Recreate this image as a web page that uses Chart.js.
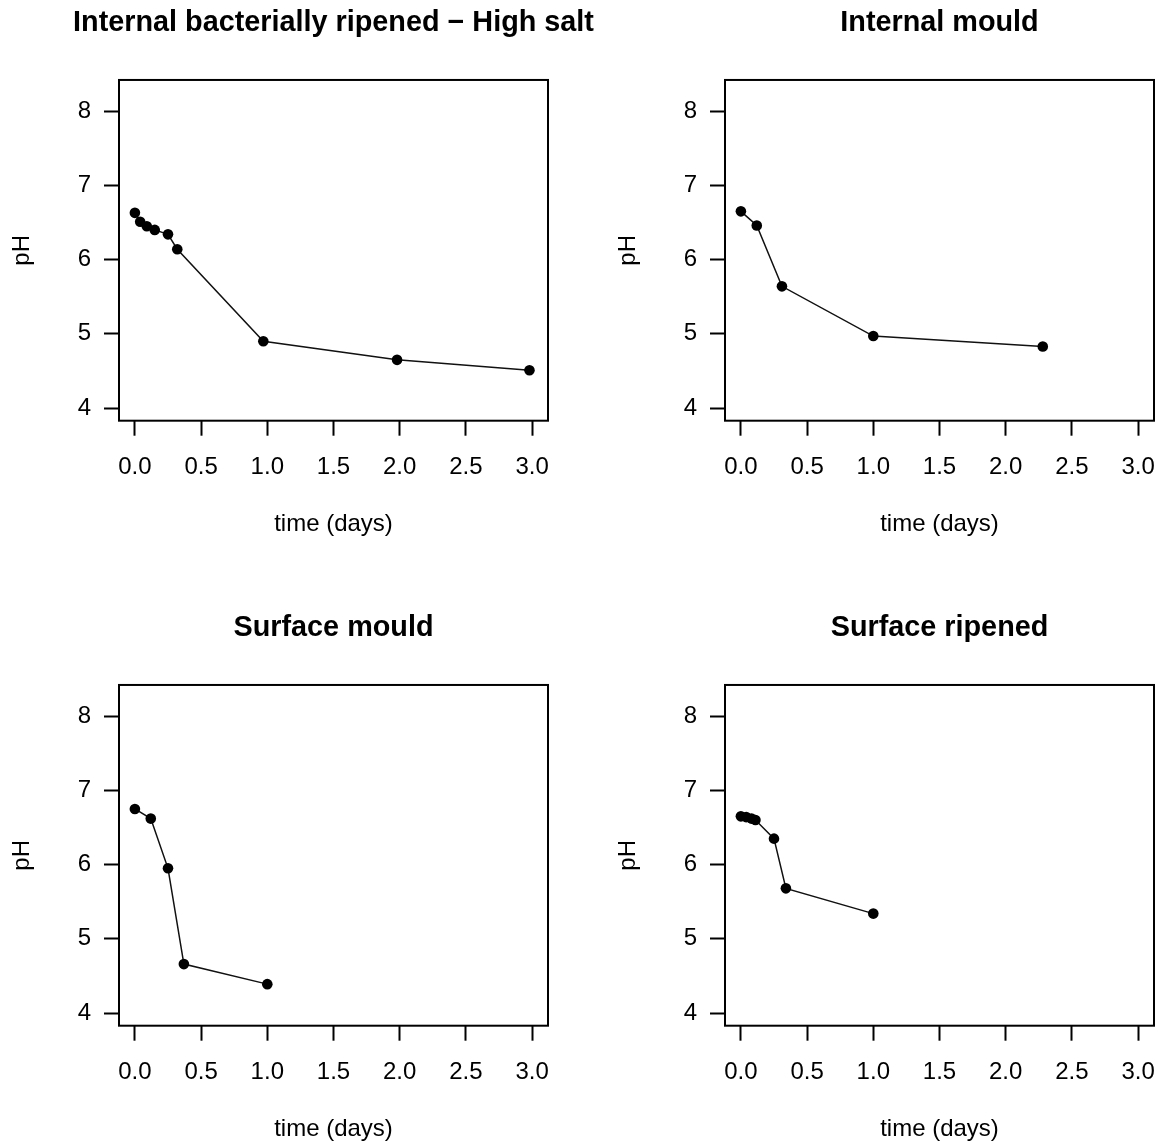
<!DOCTYPE html>
<html>
<head>
<meta charset="utf-8">
<script src="https://cdn.jsdelivr.net/npm/chart.js@4.4.1/dist/chart.umd.min.js"></script>
<style>
  html, body { margin: 0; padding: 0; background: #fff; overflow: hidden; }
  body { width: 1162px; height: 1141px; position: relative; }
  canvas { position: absolute; }
</style>
</head>
<body>
<canvas id="c1" width="667" height="539" style="left:0px;top:0px"></canvas>
<canvas id="c2" width="667" height="539" style="left:606px;top:0px"></canvas>
<canvas id="c3" width="667" height="539" style="left:0px;top:605px"></canvas>
<canvas id="c4" width="667" height="539" style="left:606px;top:605px"></canvas>
<script>
// time in days, pH
const titles = [
  "Internal bacterially ripened \u2212 High salt",
  "Internal mould",
  "Surface mould",
  "Surface ripened"
];
const timeIBR = [0, 0.04, 0.09, 0.15, 0.25, 0.32, 0.97, 1.98, 2.98];
const phIBR   = [6.63, 6.51, 6.45, 6.40, 6.34, 6.14, 4.90, 4.65, 4.51];
const timeIM  = [0, 0.12, 0.31, 1.0, 2.28];
const phIM    = [6.65, 6.46, 5.64, 4.97, 4.83];
const timeSM  = [0, 0.12, 0.25, 0.37, 1.0];
const phSM    = [6.75, 6.62, 5.95, 4.66, 4.39];
const timeSR  = [0, 0.04, 0.08, 0.11, 0.25, 0.34, 1.0];
const phSR    = [6.65, 6.64, 6.62, 6.60, 6.35, 5.68, 5.34];

const xTicks = [0, 0.5, 1.0, 1.5, 2.0, 2.5, 3.0];
const yTicks = [4, 5, 6, 7, 8];
const xLabel = "time (days)";
const yLabel = "pH";

const FONT = "'Liberation Sans', Arial, sans-serif";

// draw the closed box round the plot region, like R's box()
const boxPlugin = {
  id: "box",
  afterDraw(chart) {
    const a = chart.chartArea;
    const ctx = chart.ctx;
    ctx.save();
    ctx.strokeStyle = "#000";
    ctx.lineWidth = 2;
    ctx.strokeRect(a.left, a.top, a.right - a.left, a.bottom - a.top);
    ctx.restore();
  }
};

function makeChart(id, title, xs, ys) {
  const pts = xs.map((x, i) => ({ x: x, y: ys[i] }));
  return new Chart(document.getElementById(id), {
    type: "scatter",
    data: {
      datasets: [{
        data: pts,
        showLine: true,
        borderColor: "#111",
        borderWidth: 1.5,
        pointRadius: 5.3,
        pointBackgroundColor: "#000",
        pointBorderWidth: 0,
        pointHoverRadius: 5.3
      }]
    },
    options: {
      responsive: false,
      animation: false,
      events: [],
      layout: { padding: 0 },
      plugins: {
        legend: { display: false },
        tooltip: { enabled: false },
        title: {
          display: true,
          text: title,
          color: "#000",
          font: { family: FONT, size: 28.8, weight: "bold", lineHeight: 1.2 },
          padding: { top: 6, bottom: 39.4 }
        }
      },
      scales: {
        x: {
          type: "linear",
          min: -0.12,
          max: 3.12,
          afterBuildTicks: (s) => { s.ticks = xTicks.map(v => ({ value: v })); },
          afterFit: (s) => { s.height = 118.3; s.paddingLeft = 0; s.paddingRight = 0; },
          grid: { display: true, drawOnChartArea: false, drawTicks: true, tickLength: 15, tickColor: "#000", tickWidth: 2 },
          border: { display: false },
          ticks: {
            color: "#000",
            padding: 17,
            maxRotation: 0,
            autoSkip: false,
            font: { family: FONT, size: 24 },
            callback: (v) => Number(v).toFixed(1)
          },
          title: {
            display: true,
            text: xLabel,
            color: "#000",
            font: { family: FONT, size: 24, lineHeight: 1.2 },
            padding: { top: 0, bottom: 0 }
          }
        },
        y: {
          type: "linear",
          min: 3.83,
          max: 8.42,
          afterBuildTicks: (s) => { s.ticks = yTicks.map(v => ({ value: v })); },
          afterFit: (s) => { s.width = 119; },
          grid: { display: true, drawOnChartArea: false, drawTicks: true, tickLength: 15, tickColor: "#000", tickWidth: 2 },
          border: { display: false },
          ticks: {
            color: "#000",
            padding: 13,
            autoSkip: false,
            font: { family: FONT, size: 24 },
            callback: (v) => String(v)
          },
          title: {
            display: true,
            text: yLabel,
            color: "#000",
            font: { family: FONT, size: 24, lineHeight: 1.2 },
            padding: { top: 7.6, bottom: 0 }
          }
        },
        // empty right margin so the title centres over the plot box
        yRight: {
          type: "linear",
          position: "right",
          display: true,
          afterFit: (s) => { s.width = 119; },
          grid: { display: false },
          border: { display: false },
          ticks: { display: false }
        }
      }
    },
    plugins: [boxPlugin]
  });
}

makeChart("c1", titles[0], timeIBR, phIBR);
makeChart("c2", titles[1], timeIM, phIM);
makeChart("c3", titles[2], timeSM, phSM);
makeChart("c4", titles[3], timeSR, phSR);
</script>
</body>
</html>
